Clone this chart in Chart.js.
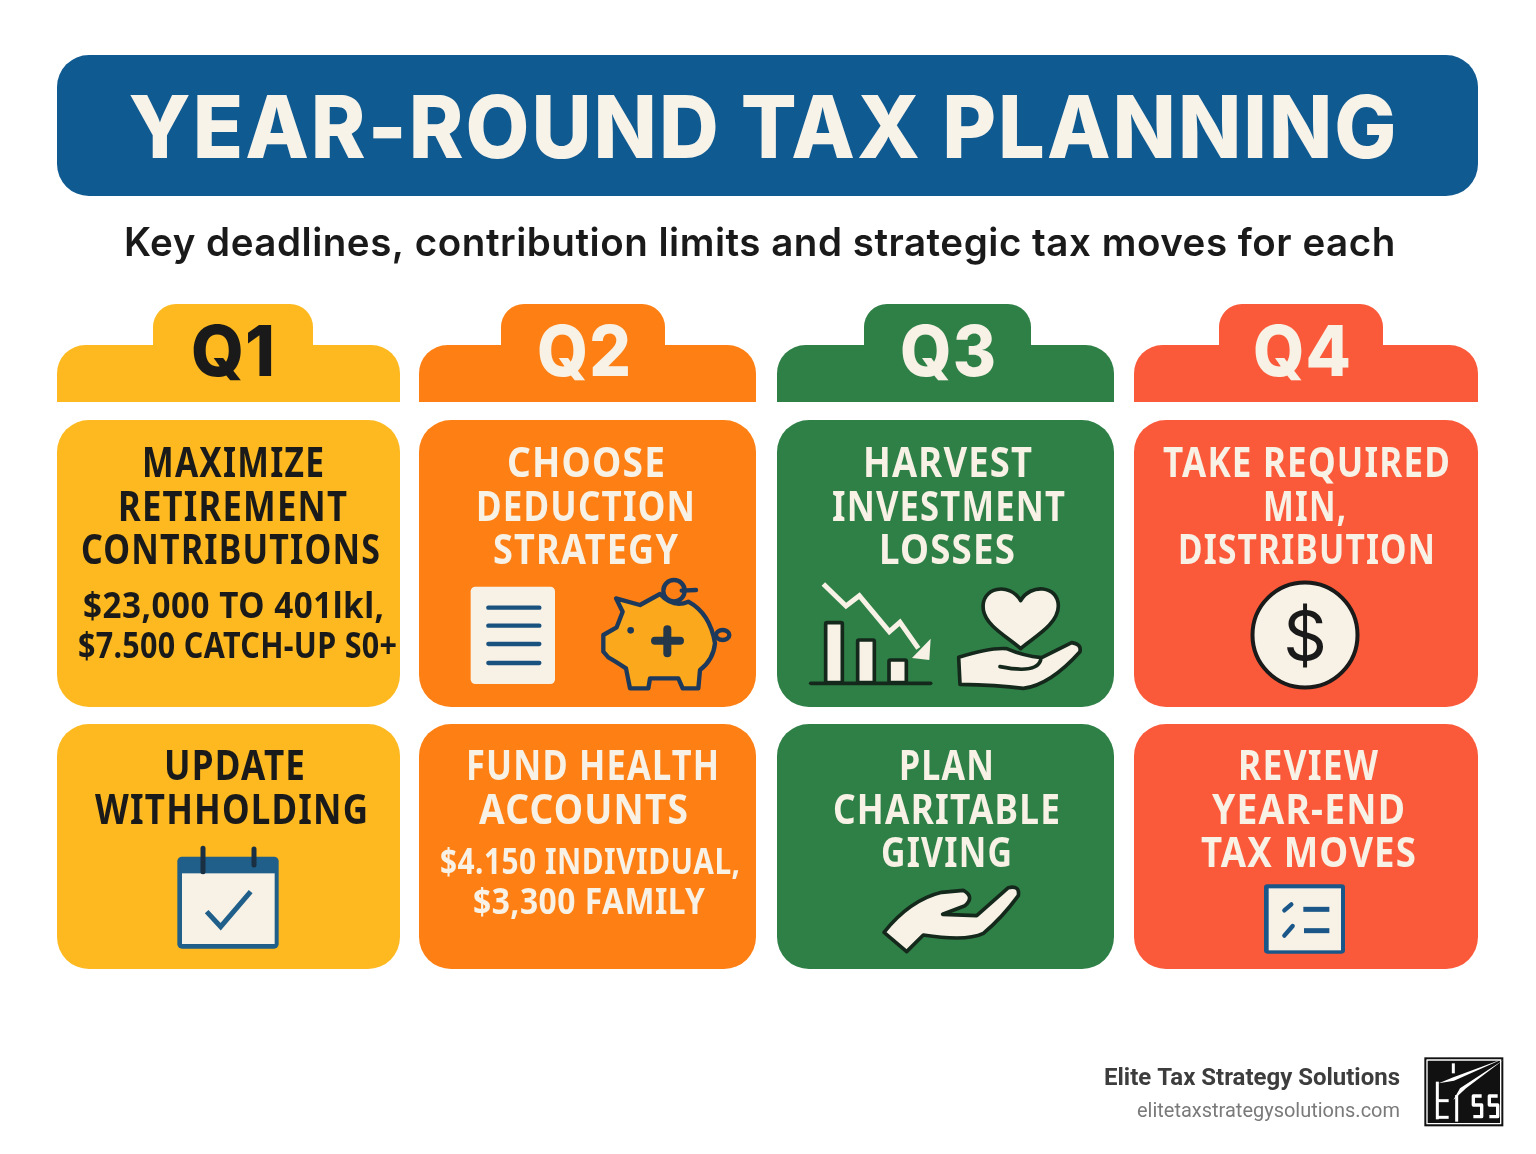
<!DOCTYPE html>
<html>
<head>
<meta charset="utf-8">
<title>Year-Round Tax Planning</title>
<script src="https://cdn.jsdelivr.net/npm/chart.js@4"></script>
<style>
  html, body { margin: 0; padding: 0; background: #fff; }
  canvas { display: block; }
</style>
</head>
<body>
<canvas id="planning" width="1536" height="1154"></canvas>
<script>
// Quarters and their colours
const quarters = ['Q1', 'Q2', 'Q3', 'Q4'];
const quarterColors = ['#fdb91f', '#fe8014', '#2f8047', '#fb5a3a'];

// Bar geometry (x and y scales run in page pixels)
const columnCenters = [228.5, 587.5, 945.5, 1306];
const columnWidths = [343, 337, 337, 344];
const tabCenters = [233, 583, 947.5, 1301];
const tabWidths = [160, 164, 167, 164];
const tabRange = [304, 350];
const headerRange = [345, 402];
const topCardRange = [420, 707];
const bottomCardRange = [724, 969];
const bannerRange = [55, 196];
const bannerCenter = 767.5;
const bannerWidth = 1421;

// Texts
const titleText = 'YEAR-ROUND TAX PLANNING';
const subtitleText = 'Key deadlines, contribution limits and strategic tax moves for each';
const topCardLines = [
    ['MAXIMIZE', 'RETIREMENT', 'CONTRIBUTIONS'],
    ['CHOOSE', 'DEDUCTION', 'STRATEGY'],
    ['HARVEST', 'INVESTMENT', 'LOSSES'],
    ['TAKE REQUIRED', 'MIN,', 'DISTRIBUTION']
];
const bottomCardLines = [
    ['UPDATE', 'WITHHOLDING'],
    ['FUND HEALTH', 'ACCOUNTS'],
    ['PLAN', 'CHARITABLE', 'GIVING'],
    ['REVIEW', 'YEAR-END', 'TAX MOVES']
];
const q1Notes = ['$23,000 TO 401lkl,', '$7.500 CATCH-UP S0+'];
const q2Notes = ['$4.150 INDIVIDUAL,', '$3,300 FAMILY'];
const brandName = 'Elite Tax Strategy Solutions';
const brandUrl = 'elitetaxstrategysolutions.com';

// Where the texts sit: widths and centers of each line as measured on the picture
const topLineWidths = [[182, 229, 299], [158, 219, 185], [169, 233, 136], [287, 83, 257]];
const bottomLineWidths = [[141, 273], [253, 209], [95, 227, 131], [140, 193, 215]];
const topTextCenters = [[233, 232.5, 230.5], [586, 585.5, 585.5], [947.5, 948.5, 947], [1306.5, 1304.5, 1306.5]];
const bottomTextCenters = [[234.5, 231.5], [592.5, 583.5], [946.5, 946.5, 946.5], [1308, 1308.5, 1308.5]];
const topBaselines = [477, 521, 564];
const bottomBaselines = [780, 824, 867];

const DARK = '#1a1a1a';
const CREAM = '#f7f1e6';
const BLUE = '#1a527f';

function roundedBar(center, width, range, color, radius) {
    return {
        data: [{ x: center, y: range }],
        backgroundColor: color,
        barThickness: width,
        borderRadius: radius,
        borderSkipped: false,
        inflateAmount: 0
    };
}

// One dataset per bar since every bar has its own width
const datasets = [roundedBar(bannerCenter, bannerWidth, bannerRange, '#105a92', 32)];
quarters.forEach((q, i) => {
    const top = { topLeft: 32, topRight: 32, bottomLeft: 0, bottomRight: 0 };
    datasets.push(roundedBar(tabCenters[i], tabWidths[i], tabRange, quarterColors[i], { topLeft: 42, topRight: 42, bottomLeft: 0, bottomRight: 0 }));
    datasets.push(roundedBar(columnCenters[i], columnWidths[i], headerRange, quarterColors[i], top));
    datasets.push(roundedBar(columnCenters[i], columnWidths[i], topCardRange, quarterColors[i], 32));
    datasets.push(roundedBar(columnCenters[i], columnWidths[i], bottomCardRange, quarterColors[i], 32));
});

// Text squeezed horizontally so that it hits the measured width,
// with a small fixed gap between the letters
function fitText(ctx, text, cx, y, font, color, width, gap) {
    gap = gap || 0;
    ctx.save();
    ctx.font = font;
    ctx.fillStyle = color;
    ctx.textAlign = 'left';
    ctx.textBaseline = 'alphabetic';
    ctx.letterSpacing = '0px';
    const w = ctx.measureText(text).width;
    const sx = (width - gap * (text.length - 1)) / w;
    ctx.translate(cx - width / 2, y);
    ctx.scale(sx, 1);
    ctx.letterSpacing = (gap / sx).toFixed(2) + 'px';
    ctx.fillText(text, 0, 0);
    ctx.restore();
}

// Icon outlines are given in the coordinates of the 3x zoom around an origin
function zoomed(ctx, ox, oy, draw) {
    ctx.save();
    ctx.translate(ox, oy);
    ctx.scale(1 / 3, 1 / 3);
    ctx.lineJoin = 'round';
    ctx.lineCap = 'round';
    draw();
    ctx.restore();
}

function tracePts(ctx, pts, close) {
    ctx.beginPath();
    ctx.moveTo(pts[0][0], pts[0][1]);
    for (let i = 1; i < pts.length; i++) ctx.lineTo(pts[i][0], pts[i][1]);
    if (close) ctx.closePath();
}

function line(ctx, x1, y1, x2, y2) {
    ctx.beginPath();
    ctx.moveTo(x1, y1);
    ctx.lineTo(x2, y2);
    ctx.stroke();
}

function roundRectPath(ctx, x, y, w, h, r) {
    ctx.beginPath();
    ctx.roundRect(x, y, w, h, r);
}

function drawDocument(ctx) {
    zoomed(ctx, 440, 570, () => {
        ctx.fillStyle = CREAM;
        roundRectPath(ctx, 92, 50, 253, 292, 14);
        ctx.fill();
        ctx.strokeStyle = BLUE;
        ctx.lineWidth = 13;
        [113, 167, 222, 279].forEach(y => line(ctx, 145, y, 298, y));
    });
}

function drawPiggy(ctx) {
    zoomed(ctx, 440, 570, () => {
        const navy = '#1d3a5c';
        ctx.strokeStyle = navy;
        ctx.lineWidth = 13;
        ctx.beginPath();
        ctx.arc(702, 62, 32, 0, Math.PI * 2);
        ctx.stroke();
        line(ctx, 725, 62, 768, 60);
        ctx.beginPath();
        ctx.ellipse(848, 195, 20, 15, 0, 0, Math.PI * 2);
        ctx.stroke();
        ctx.fillStyle = '#fca81c';
        ctx.beginPath();
        ctx.moveTo(528, 85);
        ctx.lineTo(600, 105);
        ctx.lineTo(660, 72);
        ctx.quadraticCurveTo(700, 115, 745, 95);
        ctx.quadraticCurveTo(810, 130, 825, 220);
        ctx.quadraticCurveTo(820, 270, 780, 300);
        ctx.lineTo(775, 355);
        ctx.lineTo(728, 355);
        ctx.lineTo(715, 325);
        ctx.lineTo(630, 325);
        ctx.lineTo(625, 355);
        ctx.lineTo(570, 355);
        ctx.lineTo(558, 295);
        ctx.quadraticCurveTo(520, 270, 505, 262);
        ctx.lineTo(490, 245);
        ctx.lineTo(490, 195);
        ctx.lineTo(530, 172);
        ctx.lineTo(548, 125);
        ctx.closePath();
        ctx.fill();
        ctx.stroke();
        ctx.fillStyle = navy;
        ctx.beginPath();
        ctx.arc(572, 181, 10, 0, Math.PI * 2);
        ctx.fill();
        ctx.strokeStyle = '#25384a';
        ctx.lineWidth = 24;
        line(ctx, 645, 212, 720, 212);
        line(ctx, 682, 178, 682, 250);
    });
}

function drawLossChart(ctx) {
    zoomed(ctx, 790, 570, () => {
        ctx.strokeStyle = CREAM;
        ctx.lineWidth = 15;
        ctx.lineCap = 'butt';
        ctx.lineJoin = 'miter';
        tracePts(ctx, [[100, 42], [168, 108], [208, 77], [298, 185], [330, 157], [385, 235]]);
        ctx.stroke();
        ctx.fillStyle = CREAM;
        tracePts(ctx, [[422, 206], [418, 270], [366, 264]], true);
        ctx.fill();
        ctx.lineCap = 'round';
        ctx.strokeStyle = '#15281c';
        ctx.lineWidth = 11;
        [[107, 158, 50], [203, 210, 50], [297, 270, 52]].forEach(b => {
            ctx.fillStyle = CREAM;
            roundRectPath(ctx, b[0], b[1], b[2], 338 - b[1], 4);
            ctx.fill();
            ctx.stroke();
        });
        line(ctx, 62, 340, 422, 340);
    });
}

function drawHeartHand(ctx) {
    zoomed(ctx, 790, 570, () => {
        ctx.fillStyle = CREAM;
        ctx.strokeStyle = '#15281c';
        ctx.lineWidth = 11;
        ctx.beginPath();
        ctx.moveTo(692, 92);
        ctx.bezierCurveTo(660, 35, 570, 50, 580, 120);
        ctx.bezierCurveTo(588, 170, 660, 205, 692, 236);
        ctx.bezierCurveTo(725, 205, 805, 165, 805, 108);
        ctx.bezierCurveTo(805, 45, 720, 40, 692, 92);
        ctx.closePath();
        ctx.fill();
        ctx.stroke();
        ctx.beginPath();
        ctx.moveTo(506, 262);
        ctx.quadraticCurveTo(600, 232, 650, 236);
        ctx.quadraticCurveTo(700, 258, 755, 263);
        ctx.lineTo(845, 218);
        ctx.quadraticCurveTo(875, 222, 870, 245);
        ctx.quadraticCurveTo(780, 345, 700, 355);
        ctx.quadraticCurveTo(620, 345, 510, 343);
        ctx.closePath();
        ctx.fill();
        ctx.stroke();
        ctx.beginPath();
        ctx.moveTo(630, 290);
        ctx.quadraticCurveTo(740, 312, 752, 270);
        ctx.stroke();
    });
}

function drawDollar(ctx) {
    ctx.save();
    ctx.fillStyle = CREAM;
    ctx.strokeStyle = DARK;
    ctx.lineWidth = 4;
    ctx.beginPath();
    ctx.arc(1305, 635, 52.5, 0, Math.PI * 2);
    ctx.fill();
    ctx.stroke();
    ctx.fillStyle = DARK;
    ctx.font = '400 68px Inter';
    ctx.textAlign = 'center';
    ctx.textBaseline = 'alphabetic';
    ctx.fillText('$', 1305, 660);
    ctx.restore();
}

function drawCalendar(ctx) {
    zoomed(ctx, 160, 840, () => {
        ctx.fillStyle = '#1f5f8a';
        roundRectPath(ctx, 52, 50, 304, 276, 14);
        ctx.fill();
        ctx.fillStyle = CREAM;
        ctx.fillRect(66, 100, 278, 212);
        ctx.strokeStyle = '#1b2f42';
        ctx.lineWidth = 15;
        line(ctx, 129, 25, 129, 95);
        line(ctx, 282, 27, 282, 75);
        ctx.strokeStyle = '#1f5f8a';
        ctx.lineWidth = 15;
        ctx.lineCap = 'butt';
        ctx.lineJoin = 'miter';
        tracePts(ctx, [[140, 215], [182, 260], [272, 155]]);
        ctx.stroke();
    });
}

function drawGivingHand(ctx) {
    zoomed(ctx, 870, 875, () => {
        ctx.fillStyle = CREAM;
        ctx.strokeStyle = '#15281c';
        ctx.lineWidth = 11;
        ctx.beginPath();
        ctx.moveTo(42, 172);
        ctx.quadraticCurveTo(120, 75, 215, 52);
        ctx.lineTo(280, 46);
        ctx.quadraticCurveTo(315, 65, 285, 92);
        ctx.lineTo(218, 118);
        ctx.lineTo(320, 122);
        ctx.lineTo(415, 38);
        ctx.quadraticCurveTo(450, 30, 445, 62);
        ctx.quadraticCurveTo(395, 130, 340, 175);
        ctx.quadraticCurveTo(290, 200, 160, 180);
        ctx.lineTo(110, 230);
        ctx.closePath();
        ctx.fill();
        ctx.stroke();
    });
}

function drawChecklist(ctx) {
    zoomed(ctx, 1250, 875, () => {
        ctx.fillStyle = '#1a5688';
        roundRectPath(ctx, 42, 28, 243, 208, 10);
        ctx.fill();
        ctx.fillStyle = CREAM;
        ctx.fillRect(56, 40, 217, 186);
        ctx.strokeStyle = '#1a5688';
        ctx.lineWidth = 15;
        ctx.lineCap = 'butt';
        line(ctx, 160, 103, 238, 103);
        line(ctx, 162, 167, 238, 167);
        ctx.lineCap = 'round';
        ctx.lineWidth = 13;
        line(ctx, 103, 106, 124, 88);
        line(ctx, 103, 182, 128, 153);
    });
}

function drawLogo(ctx) {
    zoomed(ctx, 1090, 1040, () => {
        ctx.fillStyle = '#111';
        ctx.fillRect(1003, 52, 237, 207);
        ctx.strokeStyle = '#fff';
        ctx.lineWidth = 4;
        ctx.strokeRect(1011, 60, 221, 191);
        ctx.fillStyle = '#fff';
        // streaks to the corner
        tracePts(ctx, [[1240, 56], [1090, 112], [1046, 130], [1092, 122]], true);
        ctx.fill();
        tracePts(ctx, [[1240, 60], [1110, 145], [1090, 180], [1128, 145]], true);
        ctx.fill();
        // letters
        ctx.lineWidth = 9;
        ctx.lineCap = 'butt';
        line(ctx, 1042, 125, 1042, 238);
        line(ctx, 1042, 182, 1076, 182);
        line(ctx, 1042, 232, 1076, 232);
        line(ctx, 1090, 70, 1090, 100);
        line(ctx, 1100, 165, 1100, 245);
        ctx.lineWidth = 10;
        [1160, 1208].forEach(x => {
            tracePts(ctx, [[x + 15, 168], [x - 10, 168], [x - 10, 195], [x + 15, 195], [x + 15, 230], [x - 10, 230]]);
            ctx.stroke();
        });
    });
}

// Texts and icons on top of the bars
const overlay = {
    id: 'overlay',
    afterDatasetsDraw(chart) {
        const ctx = chart.ctx;
        ctx.save();
        fitText(ctx, titleText, 762.5, 158, '800 86px Inter', '#f8f3e8', 1268, 2);
        fitText(ctx, subtitleText, 759.5, 256, '600 39px Inter', DARK, 1271, 0.5);

        const tabLabelWidths = [84, 94, 96, 98];
        const tabLabelCenters = [233, 584, 948, 1302];
        quarters.forEach((q, i) => {
            fitText(ctx, q, tabLabelCenters[i], 376, '800 70px Inter', i === 0 ? DARK : CREAM, tabLabelWidths[i], 1);
        });

        const cardFont = '700 41px "Noto Sans"';
        const cardGap = 1.2;
        topCardLines.forEach((lines, i) => {
            const color = i === 0 ? DARK : CREAM;
            lines.forEach((text, j) => fitText(ctx, text, topTextCenters[i][j], topBaselines[j], cardFont, color, topLineWidths[i][j], cardGap));
        });
        bottomCardLines.forEach((lines, i) => {
            const color = i === 0 ? DARK : CREAM;
            lines.forEach((text, j) => fitText(ctx, text, bottomTextCenters[i][j], bottomBaselines[j], cardFont, color, bottomLineWidths[i][j], cardGap));
        });

        const noteFont = '700 35px "Noto Sans"';
        fitText(ctx, q1Notes[0], 233.5, 618, noteFont, DARK, 301, 0.5);
        fitText(ctx, q1Notes[1], 237.5, 658, noteFont, DARK, 319, 0.3);
        fitText(ctx, q2Notes[0], 590, 874, noteFont, CREAM, 300, 0.5);
        fitText(ctx, q2Notes[1], 589, 914, noteFont, CREAM, 232, 0.5);

        drawDocument(ctx);
        drawPiggy(ctx);
        drawLossChart(ctx);
        drawHeartHand(ctx);
        drawDollar(ctx);
        drawCalendar(ctx);
        drawGivingHand(ctx);
        drawChecklist(ctx);

        fitText(ctx, brandName, 1252, 1085, '700 24px Roboto', '#3d3d3d', 296);
        fitText(ctx, brandUrl, 1268.5, 1117, '400 21px Roboto', '#7a7a7a', 263);
        drawLogo(ctx);
        ctx.restore();
    }
};

new Chart(document.getElementById('planning').getContext('2d'), {
    type: 'bar',
    data: { datasets: datasets },
    options: {
        responsive: false,
        animation: false,
        devicePixelRatio: 1,
        layout: { padding: 0 },
        datasets: { bar: { grouped: false } },
        plugins: { legend: { display: false }, tooltip: { enabled: false }, title: { display: false } },
        scales: {
            x: { type: 'linear', min: 0, max: 1536, offset: false, display: false },
            y: { type: 'linear', min: 0, max: 1154, reverse: true, display: false }
        }
    },
    plugins: [overlay]
});
</script>
</body>
</html>
